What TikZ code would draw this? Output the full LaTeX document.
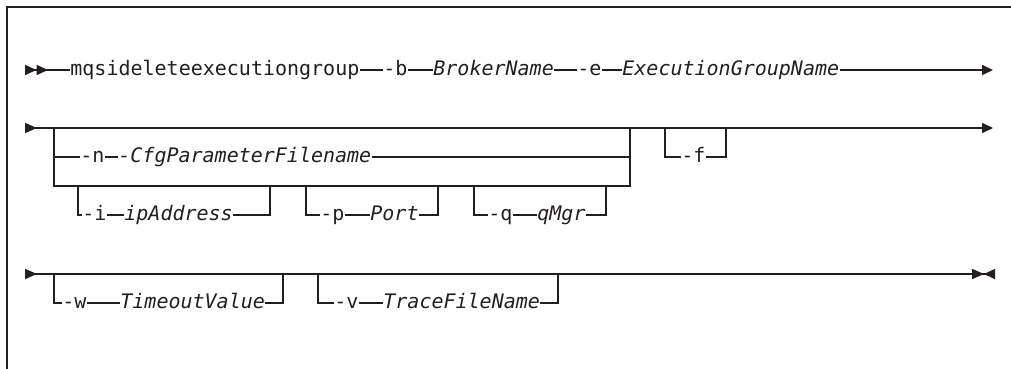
\documentclass[tikz,border=0pt]{standalone}
\usepackage{fontspec}
\setmonofont{DejaVu Sans Mono}
\usetikzlibrary{arrows.meta}
\definecolor{railink}{RGB}{35,31,32}

\begin{document}
\begin{tikzpicture}[
    x=0.5pt, y=-0.5pt,
    kw/.style={inner sep=0pt, text height=5.4pt, text depth=0pt, anchor=west,
        font=\ttfamily\fontsize{10}{12}\selectfont, text=railink},
    var/.style={kw, font=\ttfamily\itshape\fontsize{10}{12}\selectfont},
    rail/.style={line width=0.8pt, draw=railink},
    frame/.style={line width=1pt, draw=railink},
    railbegin/.style={rail, {Triangle[length=5.75pt,width=5pt,reversed]Triangle[length=5.75pt,width=5pt,reversed]}-},
    railcont/.style={rail, {Triangle[length=6pt,width=5pt,reversed]}-{Triangle[length=5.5pt,width=5pt]}},
    railfinish/.style={rail, {Triangle[length=6pt,width=5pt,reversed]}-{Triangle[length=6pt,width=5pt]Triangle[length=5.5pt,width=5pt,reversed]}}
]
\useasboundingbox (0,0) rectangle (1011,369);

% Frame
\coordinate (fa) at (1011,7);
\coordinate (fb) at (7,7);
\coordinate (fc) at (7,369);
\draw[frame] (fa) -- (fb) -- (fc);

% Row 1
\coordinate (r1s) at (25,70);
\coordinate (r1e) at (993,70);
\node[kw] (cmd) at (70,70) {mqsideleteexecutiongroup};
\node[kw] (ob) at (383,70) {-b};
\node[var] (broker) at (433,70) {BrokerName};
\node[kw] (oe) at (577,70) {-e};
\node[var] (egn) at (622,70) {ExecutionGroupName};

\draw[railbegin] (r1s) -- (cmd.west);
\draw[rail] (cmd.east) -- (ob.west) (ob.east) -- (broker.west)
    (broker.east) -- (oe.west) (oe.east) -- (egn.west);
\draw[rail, -{Triangle[length=5.5pt,width=5pt]}] (egn.east) -- (r1e);

% Row 2
\coordinate (r2s) at (25,128);
\coordinate (r2e) at (993,128);
\draw[railcont] (r2s) -- (r2e);

% Row 2: -n group
\coordinate (g1) at (54,128);
\coordinate (g2) at (630,128);
\coordinate (g3) at (54,186);
\coordinate (g4) at (630,186);
\coordinate (n1) at (54,157);
\coordinate (n2) at (630,157);
\node[kw] (on) at (80,157) {-n};
\node[var] (cfg) at (118,157) {-CfgParameterFilename};
\draw[rail] (g1) -- (g3) -- (g4) -- (g2);
\draw[rail] (n1) -- (on.west) (on.east) -- (cfg.west) (cfg.east) -- (n2);

% Row 2: -i
\coordinate (i1) at (78,186);
\coordinate (i2) at (78,215);
\coordinate (i3) at (270,215);
\coordinate (i4) at (270,186);
\node[kw] (oi) at (82,215) {-i};
\node[var] (ip) at (124,215) {ipAddress};
\draw[rail] (i1) -- (i2) -- (oi.west) (oi.east) -- (ip.west) (ip.east) -- (i3) -- (i4);

% Row 2: -p
\coordinate (p1) at (306,186);
\coordinate (p2) at (306,215);
\coordinate (p3) at (438,215);
\coordinate (p4) at (438,186);
\node[kw] (op) at (320,215) {-p};
\node[var] (port) at (370,215) {Port};
\draw[rail] (p1) -- (p2) -- (op.west) (op.east) -- (port.west) (port.east) -- (p3) -- (p4);

% Row 2: -q
\coordinate (q1) at (474,186);
\coordinate (q2) at (474,215);
\coordinate (q3) at (606,215);
\coordinate (q4) at (606,186);
\node[kw] (oq) at (488,215) {-q};
\node[var] (qmgr) at (537,215) {qMgr};
\draw[rail] (q1) -- (q2) -- (oq.west) (oq.east) -- (qmgr.west) (qmgr.east) -- (q3) -- (q4);

% Row 2: -f
\coordinate (f1) at (665,128);
\coordinate (f2) at (665,157);
\coordinate (f3) at (726,157);
\coordinate (f4) at (726,128);
\node[kw] (of) at (681,157) {-f};
\draw[rail] (f1) -- (f2) -- (of.west) (of.east) -- (f3) -- (f4);

% Row 3
\coordinate (r3s) at (25,274);
\coordinate (r3e) at (995,274);
\draw[railfinish] (r3s) -- (r3e);

% Row 3: -w
\coordinate (w1) at (54,274);
\coordinate (w2) at (54,303);
\coordinate (w3) at (283,303);
\coordinate (w4) at (283,274);
\node[kw] (ow) at (62,303) {-w};
\node[var] (tv) at (120,303) {TimeoutValue};
\draw[rail] (w1) -- (w2) -- (ow.west) (ow.east) -- (tv.west) (tv.east) -- (w3) -- (w4);

% Row 3: -v
\coordinate (v1) at (318,274);
\coordinate (v2) at (318,303);
\coordinate (v3) at (558,303);
\coordinate (v4) at (558,274);
\node[kw] (ov) at (334,303) {-v};
\node[var] (tfn) at (383,303) {TraceFileName};
\draw[rail] (v1) -- (v2) -- (ov.west) (ov.east) -- (tfn.west) (tfn.east) -- (v3) -- (v4);

\coordinate (k1) at (563,274);
\coordinate (k2) at (587,274);
\draw[rail, line width=1.3pt] (k1) -- (k2);

\end{tikzpicture}
\end{document}
